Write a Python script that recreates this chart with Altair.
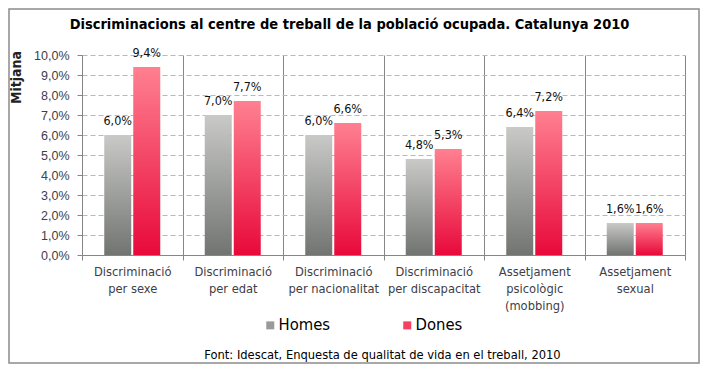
import altair as alt
import pandas as pd

categories = [
    "Discriminació|per sexe",
    "Discriminació|per edat",
    "Discriminació|per nacionalitat",
    "Discriminació|per discapacitat",
    "Assetjament|psicològic|(mobbing)",
    "Assetjament|sexual",
]
series = ["Homes", "Dones"]
homes = [6.0, 7.0, 6.0, 4.8, 6.4, 1.6]
dones = [9.4, 7.7, 6.6, 5.3, 7.2, 1.6]
y_ticks = [0, 1, 2, 3, 4, 5, 6, 7, 8, 9, 10]

rows = []
for c, h, d in zip(categories, homes, dones):
    rows.append({"cat": c, "serie": "Homes", "valor": h})
    rows.append({"cat": c, "serie": "Dones", "valor": d})
df = pd.DataFrame(rows)

NARROW = "Liberation Sans Narrow, DejaVu Sans Condensed, Liberation Sans"
REG = "Liberation Sans, Arial, sans-serif"
GRAY = "#868686"

xenc = alt.X(
    "cat:N",
    sort=categories,
    scale=alt.Scale(paddingInner=0, paddingOuter=0),
    axis=alt.Axis(
        title="Font: Idescat, Enquesta de qualitat de vida en el treball, 2010",
        titleFont=NARROW, titleFontSize=12.8, titleFontWeight="normal", titleColor="#000000",
        titleY=99, titleX=300, titleBaseline="middle",
        labelExpr="split(datum.label, '|')",
        labelAngle=0, labelFont=NARROW, labelFontSize=12.8, labelColor="#404048",
        labelLineHeight=17, labelPadding=5, labelBaseline="top",
        tickBand="extent", ticks=True, tickSize=5, tickColor=GRAY,
        grid=True, gridColor=GRAY, gridDash=[], gridWidth=1,
        domainColor=GRAY,
    ),
)
yenc = alt.Y(
    "valor:Q",
    scale=alt.Scale(domain=[0, 10], nice=False),
    axis=alt.Axis(
        title="Mitjana", titleFont=NARROW, titleFontSize=14, titleFontWeight="bold",
        titleColor="#222222", titleAngle=-90, titleX=-66, titleY=22,
        titleAlign="center", titleBaseline="middle",
        values=y_ticks,
        labelExpr="replace(format(datum.value, '.1f'), '.', ',') + '%'",
        labelFont=REG, labelFontSize=12.5, labelColor="#404048", labelPadding=8,
        tickSize=5, tickColor=GRAY, domainColor=GRAY,
        grid=True, gridColor="#b8b8b8", gridDash=[5, 3],
    ),
)
xoff = alt.XOffset(
    "serie:N",
    scale=alt.Scale(domain=series, paddingInner=0.069, paddingOuter=0.767),
)

grad_h = alt.Gradient(
    gradient="linear", x1=0, x2=0, y1=0, y2=1,
    stops=[alt.GradientStop(color="#c9cac8", offset=0),
           alt.GradientStop(color="#727471", offset=1)],
)
grad_d = alt.Gradient(
    gradient="linear", x1=0, x2=0, y1=0, y2=1,
    stops=[alt.GradientStop(color="#ff8090", offset=0),
           alt.GradientStop(color="#e8093a", offset=1)],
)

base = alt.Chart(df)
bars_h = base.transform_filter("datum.serie == 'Homes'").mark_bar(color=grad_h).encode(x=xenc, y=yenc, xOffset=xoff)
bars_d = base.transform_filter("datum.serie == 'Dones'").mark_bar(color=grad_d).encode(x=xenc, y=yenc, xOffset=xoff)

labels = base.transform_calculate(
    lab="replace(format(datum.valor, '.1f'), '.', ',') + '%'"
).mark_text(font=NARROW, fontSize=12.5, color="#111111", dy=-10, baseline="alphabetic").encode(
    x=xenc, y=yenc, xOffset=xoff, text="lab:N"
)

legend_layer = base.mark_square(opacity=0).encode(
    x=xenc, y=yenc,
    color=alt.Color(
        "serie:N",
        scale=alt.Scale(domain=series, range=["#9a9b99", "#f5405f"]),
        legend=alt.Legend(
            title=None, orient="none", legendX=180, legendY=262, direction="horizontal",
            symbolType="square", symbolSize=64, symbolOpacity=1, symbolStrokeWidth=0,
            labelFont=NARROW, labelFontSize=16.5, labelColor="#000000", labelOffset=0,
            columnPadding=68, padding=0,
        ),
    ),
)

frame = alt.Chart(pd.DataFrame({"a": [0]})).mark_rect(
    fillOpacity=0, stroke="#8c8c8c", strokeWidth=1.5
).encode(
    x=alt.value(-73), x2=alt.value(617), y=alt.value(-46), y2=alt.value(308)
)

chart = alt.layer(frame, bars_h, bars_d, labels, legend_layer).properties(
    width=603, height=200,
    padding={"left": 74, "top": 47, "right": 15, "bottom": 109},
    autosize=alt.AutoSizeParams(type="none"),
    title=alt.TitleParams(
        "Discriminacions al centre de treball de la població ocupada. Catalunya 2010",
        font=NARROW, fontSize=14.5, fontWeight="bold", color="#000000",
        anchor="middle", dx=-34, offset=-24,
    ),
).configure_view(stroke=None)

chart.save("out.html", embed_options={"renderer": "svg", "actions": False})
